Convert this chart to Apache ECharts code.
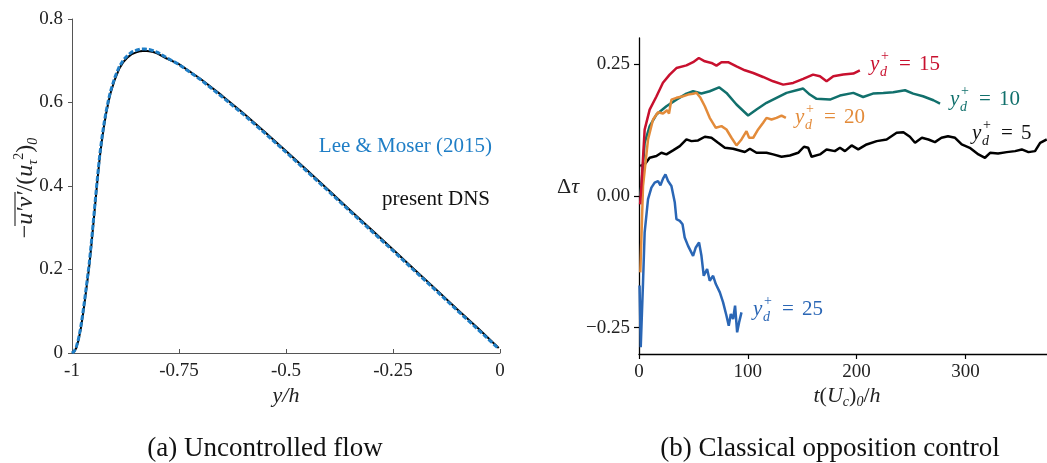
<!DOCTYPE html>
<html><head><meta charset="utf-8">
<script src="https://cdn.jsdelivr.net/npm/echarts@6/dist/echarts.min.js"></script>
<style>html,body{margin:0;padding:0;background:#fff}#c{width:1047px;height:463px}</style>
</head><body><div id="c"></div>
<script>
// ---------- Panel (a): Reynolds shear stress ----------
const yOverH = [-1, -0.995, -0.99, -0.985, -0.98, -0.975, -0.97, -0.965, -0.96, -0.955,
  -0.95, -0.945, -0.94, -0.935, -0.93, -0.925, -0.92, -0.915, -0.91, -0.90,
  -0.89, -0.88, -0.87, -0.86, -0.85, -0.84, -0.83, -0.82, -0.81, -0.80,
  -0.78, -0.75, -0.70, -0.65, -0.60, -0.55, -0.50, -0.45, -0.40, -0.35,
  -0.30, -0.25, -0.20, -0.15, -0.10, -0.05, -0.003];
const presentDNS = [0, 0.003, 0.012, 0.03, 0.055, 0.088, 0.125, 0.165, 0.205, 0.255,
  0.31, 0.365, 0.42, 0.47, 0.51, 0.545, 0.575, 0.60, 0.622, 0.655,
  0.68, 0.697, 0.708, 0.716, 0.72, 0.723, 0.724, 0.723, 0.721, 0.717,
  0.706, 0.692, 0.657, 0.617, 0.575, 0.530, 0.484, 0.437, 0.390, 0.342,
  0.295, 0.248, 0.200, 0.153, 0.105, 0.058, 0.012];
const leeMoser = [0, 0.004, 0.014, 0.033, 0.059, 0.093, 0.131, 0.171, 0.212, 0.262,
  0.317, 0.372, 0.426, 0.476, 0.516, 0.551, 0.580, 0.605, 0.627, 0.660,
  0.685, 0.702, 0.713, 0.721, 0.725, 0.728, 0.728, 0.727, 0.724, 0.720,
  0.708, 0.691, 0.655, 0.614, 0.572, 0.527, 0.481, 0.434, 0.387, 0.339,
  0.292, 0.245, 0.197, 0.150, 0.102, 0.055, 0.010];
const leftXTicks = [-1, -0.75, -0.5, -0.25, 0];
const leftYTicks = [0, 0.2, 0.4, 0.6, 0.8];

// ---------- Panel (b): opposition control ----------
const t15 = [1, 2.2, 5.2, 9.8, 16, 22, 28.2, 34.4, 43.6, 49.7, 55, 60.5, 66.6, 71.2, 75.8, 81.9, 89.6, 97.3, 105, 114, 123.3, 132.5, 141.7, 150.9, 160, 166.3, 172.4, 178.6, 187.7, 197, 203];
const d15 = [-0.016, 0.019, 0.126, 0.164, 0.189, 0.215, 0.2305, 0.243, 0.248, 0.254, 0.262, 0.2557, 0.2527, 0.2475, 0.254, 0.254, 0.246, 0.2387, 0.2336, 0.226, 0.2178, 0.2115, 0.2147, 0.2223, 0.2305, 0.2273, 0.2178, 0.2273, 0.2305, 0.2324, 0.2387];
const t10 = [1, 2.2, 5.2, 9.8, 16, 25.2, 34.4, 43.6, 49.7, 57.4, 65, 73.6, 80.4, 89.6, 100.3, 108, 117.2, 126.4, 135.6, 144.8, 150.9, 157, 163.2, 175.5, 184.7, 197, 206, 215, 224.5, 233.7, 244.5, 252, 261, 270.6, 276.7];
const d10 = [0.0, 0.02, 0.101, 0.1326, 0.1547, 0.1705, 0.183, 0.1945, 0.1989, 0.1945, 0.1989, 0.2064, 0.1958, 0.1737, 0.1528, 0.1642, 0.1769, 0.1864, 0.1958, 0.2008, 0.204, 0.1926, 0.1845, 0.1831, 0.1907, 0.1958, 0.188, 0.1945, 0.1957, 0.197, 0.2008, 0.1944, 0.1894, 0.1818, 0.1755];
const t20 = [1.2, 3.7, 8.3, 12.9, 17.5, 22.1, 25.8, 27.6, 29.8, 34.4, 40.5, 45.1, 49.7, 52.8, 56.5, 60.5, 65, 70.6, 75.8, 80.4, 85, 89.6, 94.2, 98.8, 101.2, 105, 109.5, 114.1, 117.2, 121.8, 126.4, 131, 135];
const d20 = [-0.145, 0.019, 0.1074, 0.1453, 0.1591, 0.1566, 0.1629, 0.1566, 0.183, 0.1864, 0.1894, 0.1926, 0.194, 0.196, 0.1864, 0.1705, 0.1484, 0.1295, 0.1326, 0.1263, 0.1106, 0.096, 0.1074, 0.1231, 0.1106, 0.1106, 0.1263, 0.139, 0.1484, 0.1453, 0.1484, 0.1528, 0.1484];
const t5 = [1.2, 5.2, 9.8, 16, 20.6, 25.2, 31.3, 37.5, 43.6, 48.2, 54.3, 60.5, 66.6, 72.7, 78.9, 86.5, 97.3, 101.9, 108, 117.2, 123.3, 131, 138.7, 146.3, 151.6, 155.5, 158.6, 166.3, 172.4, 180, 184.7, 189.3, 195.4, 201.5, 209.2, 218.5, 227.6, 236.8, 243, 249, 253.7, 260, 266, 272, 278, 284, 290.5, 296.6, 304, 312, 318, 322.7, 330, 338, 345.7, 351.8, 358, 364, 368.7, 374.8];
const d5 = [0.057, 0.06, 0.0727, 0.0758, 0.0821, 0.079, 0.0866, 0.0947, 0.1074, 0.1042, 0.1055, 0.1125, 0.1106, 0.1011, 0.0917, 0.0898, 0.0834, 0.0898, 0.0821, 0.0821, 0.079, 0.0746, 0.077, 0.0821, 0.0935, 0.0917, 0.0746, 0.079, 0.0884, 0.0852, 0.0917, 0.0852, 0.096, 0.0884, 0.0979, 0.1042, 0.1073, 0.12, 0.1212, 0.1124, 0.101, 0.1105, 0.1073, 0.1023, 0.1105, 0.1136, 0.1105, 0.0979, 0.0915, 0.0789, 0.0726, 0.082, 0.0808, 0.0833, 0.0852, 0.0884, 0.0833, 0.0852, 0.101, 0.1073];
const t25 = [0.5, 1.6, 3.7, 5.2, 8.3, 11.4, 14.4, 17.5, 19.7, 22.1, 24.3, 26.7, 29.8, 32.9, 34.4, 37.5, 40, 42, 45.1, 49.7, 52.2, 55.2, 57.4, 59.5, 62.6, 65, 68.1, 70.6, 74.3, 77.3, 80.4, 82.5, 84.4, 86.5, 88.3, 90.2, 92, 94.2];
const d25 = [-0.17, -0.287, -0.164, -0.069, -0.006, 0.0159, 0.0254, 0.0284, 0.0203, 0.033, 0.0411, 0.0284, 0.019, -0.0125, -0.0441, -0.0473, -0.0536, -0.0788, -0.0947, -0.1136, -0.0977, -0.0883, -0.1136, -0.1515, -0.1388, -0.161, -0.1515, -0.1672, -0.183, -0.2019, -0.2273, -0.2462, -0.224, -0.2335, -0.2083, -0.2588, -0.24, -0.2209];
const rightXTicks = [0, 100, 200, 300];
const rightYTicks = [-0.25, 0, 0.25];

const F = '"Liberation Serif", "DejaVu Serif", serif';
const C = {red:'#c8102e', teal:'#11706c', orange:'#e38b3a', black:'#000000', blue:'#2a66b5', lm:'#1f7ec6'};
function zip(a, b) { return a.map((x, i) => [x, b[i]]); }

const chart = echarts.init(document.getElementById('c'), null, {renderer: 'canvas'});

function ydLabel(x, y, num, color) {
  return {type: 'group', x: x, y: y, children: [
    {type: 'text', style: {text: 'y', x: 0, y: 0, font: 'italic 21px ' + F, fill: color, verticalAlign: 'middle'}},
    {type: 'text', style: {text: '+', x: 11, y: -8, font: '14px ' + F, fill: color, verticalAlign: 'middle'}},
    {type: 'text', style: {text: 'd', x: 10, y: 8, font: 'italic 14px ' + F, fill: color, verticalAlign: 'middle'}},
    {type: 'text', style: {text: '=', x: 29, y: 0, font: '21px ' + F, fill: color, verticalAlign: 'middle'}},
    {type: 'text', style: {text: num, x: 49, y: 0, font: '21px ' + F, fill: color, verticalAlign: 'middle'}}
  ]};
}

const option = {
  animation: false,
  backgroundColor: '#ffffff',
  grid: [
    {left: 72, top: 19, width: 428, height: 334},
    {left: 639, top: 38, width: 408, height: 316}
  ],
  xAxis: [
    {gridIndex: 0, type: 'value', min: -1, max: 0, interval: 0.25,
      axisLine: {onZero: false, lineStyle: {color: '#555', width: 1}},
      axisTick: {inside: true, length: 4, lineStyle: {color: '#555'}},
      axisLabel: {customValues: leftXTicks, formatter: v => String(v), fontFamily: F, fontSize: 19, color: '#222', margin: 9},
      splitLine: {show: false}},
    {gridIndex: 1, type: 'value', min: 0, max: 375,
      axisLine: {onZero: false, lineStyle: {color: '#000', width: 1.3}},
      axisTick: {customValues: rightXTicks, length: 5, lineStyle: {color: '#000', width: 1.2}},
      axisLabel: {customValues: rightXTicks, fontFamily: F, fontSize: 19, color: '#222', margin: 9},
      splitLine: {show: false}}
  ],
  yAxis: [
    {gridIndex: 0, type: 'value', min: 0, max: 0.8, interval: 0.2,
      axisLine: {show: true, onZero: false, lineStyle: {color: '#555', width: 1}},
      axisTick: {show: true, inside: false, length: 4, lineStyle: {color: '#555'}},
      axisLabel: {customValues: leftYTicks, formatter: v => (v === 0 ? '0' : v.toFixed(1)), fontFamily: F, fontSize: 19, color: '#222', margin: 9},
      splitLine: {show: false}},
    {gridIndex: 1, type: 'value', min: -0.3, max: 0.3,
      axisLine: {show: true, onZero: false, lineStyle: {color: '#000', width: 1.3}},
      axisTick: {show: true, customValues: rightYTicks, length: 5, lineStyle: {color: '#000', width: 1.2}},
      axisLabel: {customValues: rightYTicks, formatter: v => (v < 0 ? '\u2212' + Math.abs(v).toFixed(2) : v.toFixed(2)), fontFamily: F, fontSize: 19, color: '#222', margin: 9},
      splitLine: {show: false}}
  ],
  series: [
    {type: 'line', xAxisIndex: 0, yAxisIndex: 0, data: zip(yOverH, presentDNS), symbol: 'none', z: 2,
      lineStyle: {color: C.black, width: 2}},
    {type: 'line', xAxisIndex: 0, yAxisIndex: 0, data: zip(yOverH, leeMoser), symbol: 'none', z: 3,
      lineStyle: {color: C.lm, width: 3, type: [5, 2]}},
    {type: 'line', xAxisIndex: 1, yAxisIndex: 1, data: zip(t5, d5), symbol: 'none', lineStyle: {color: C.black, width: 2.5}},
    {type: 'line', xAxisIndex: 1, yAxisIndex: 1, data: zip(t10, d10), symbol: 'none', lineStyle: {color: C.teal, width: 2.5}},
    {type: 'line', xAxisIndex: 1, yAxisIndex: 1, data: zip(t25, d25), symbol: 'none', lineStyle: {color: C.blue, width: 2.5}},
    {type: 'line', xAxisIndex: 1, yAxisIndex: 1, data: zip(t20, d20), symbol: 'none', lineStyle: {color: C.orange, width: 2.5}},
    {type: 'line', xAxisIndex: 1, yAxisIndex: 1, data: zip(t15, d15), symbol: 'none', lineStyle: {color: C.red, width: 2.5}}
  ],
  graphic: [
    // panel (a) axis titles
    {type: 'text', x: 26, y: 188, rotation: Math.PI / 2, style: {
      text: '{n|\u2212}{i|u\u2032v\u2032}{n|/(}{i|u}{sb|\u03c4}{sp|2}{n|)}{sb|0}',
      align: 'center', verticalAlign: 'middle',
      rich: {
        n: {fontFamily: F, fontSize: 24, fill: '#222', lineHeight: 28},
        i: {fontFamily: F, fontStyle: 'italic', fontSize: 24, fill: '#222', lineHeight: 28},
        sb: {fontFamily: F, fontStyle: 'italic', fontSize: 14, fill: '#222', verticalAlign: 'bottom', lineHeight: 14},
        sp: {fontFamily: F, fontSize: 14, fill: '#222', verticalAlign: 'top', lineHeight: 14}
      }}},
    {type: 'line', shape: {x1: 15, y1: 192, x2: 15, y2: 226}, style: {stroke: '#222', lineWidth: 1.1}},
    {type: 'text', x: 286, y: 396, style: {text: 'y/h', font: 'italic 22px ' + F, fill: '#222', align: 'center', verticalAlign: 'middle'}},
    {type: 'text', x: 492, y: 146, style: {text: 'Lee & Moser (2015)', font: '21px ' + F, fill: C.lm, align: 'right', verticalAlign: 'middle'}},
    {type: 'text', x: 490, y: 199, style: {text: 'present DNS', font: '21px ' + F, fill: '#111', align: 'right', verticalAlign: 'middle'}},
    // panel (b) axis titles
    {type: 'text', x: 568, y: 187, style: {
      text: '{n|\u0394}{i|\u03c4}', align: 'center', verticalAlign: 'middle',
      rich: {
        n: {fontFamily: F, fontSize: 22, fill: '#222'},
        i: {fontFamily: F, fontStyle: 'italic', fontSize: 22, fill: '#222'}
      }}},
    {type: 'text', x: 847, y: 396, style: {
      text: '{i|t}{n|(}{i|U}{sb|c}{n|)}{sb|0}{n|/}{i|h}',
      align: 'center', verticalAlign: 'middle',
      rich: {
        n: {fontFamily: F, fontSize: 22, fill: '#222', lineHeight: 26},
        i: {fontFamily: F, fontStyle: 'italic', fontSize: 22, fill: '#222', lineHeight: 26},
        sb: {fontFamily: F, fontStyle: 'italic', fontSize: 14, fill: '#222', verticalAlign: 'bottom', lineHeight: 14}
      }}},
    ydLabel(870, 64, '15', C.red),
    ydLabel(950, 99, '10', C.teal),
    ydLabel(795, 117, '20', C.orange),
    ydLabel(972, 133, '5', '#111'),
    ydLabel(753, 309, '25', C.blue),
    // captions
    {type: 'text', x: 265, y: 449, style: {text: '(a) Uncontrolled flow', font: '27px ' + F, fill: '#111', align: 'center', verticalAlign: 'middle'}},
    {type: 'text', x: 830, y: 449, style: {text: '(b) Classical opposition control', font: '27px ' + F, fill: '#111', align: 'center', verticalAlign: 'middle'}}
  ]
};
chart.setOption(option);
</script>
</body></html>
